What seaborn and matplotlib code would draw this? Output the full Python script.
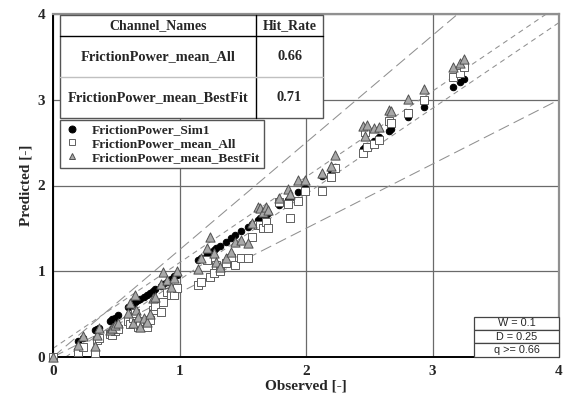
import matplotlib
matplotlib.use("Agg")
import matplotlib.pyplot as plt
import seaborn as sns
import pandas as pd
from matplotlib.patches import Rectangle
from matplotlib.lines import Line2D
from matplotlib.ticker import MultipleLocator

# ---------------- data ----------------
observed = [0.00, 0.20, 0.24, 0.33, 0.35, 0.36, 0.45, 0.47, 0.49, 0.51,
            0.59, 0.61, 0.63, 0.65, 0.66, 0.67, 0.69, 0.72, 0.74, 0.77,
            0.79, 0.81, 0.85, 0.87, 0.90, 0.93, 0.96, 0.98, 1.15, 1.17,
            1.22, 1.24, 1.27, 1.29, 1.32, 1.37, 1.41, 1.44, 1.49, 1.54,
            1.57, 1.62, 1.64, 1.66, 1.68, 1.70, 1.79, 1.86, 1.87, 1.94,
            1.99, 2.13, 2.20, 2.23, 2.45, 2.47, 2.48, 2.54, 2.58, 2.66,
            2.67, 2.81, 2.93, 3.16, 3.22, 3.25]
sim1 = [0.00, 0.19, 0.22, 0.31, 0.33, 0.34, 0.42, 0.44, 0.46, 0.49,
        0.58, 0.60, 0.62, 0.64, 0.65, 0.66, 0.68, 0.70, 0.72, 0.75,
        0.77, 0.79, 0.83, 0.85, 0.88, 0.91, 0.94, 0.96, 1.13, 1.15,
        1.20, 1.22, 1.25, 1.27, 1.30, 1.34, 1.39, 1.42, 1.47, 1.52,
        1.55, 1.60, 1.62, 1.64, 1.66, 1.68, 1.77, 1.83, 1.85, 1.92,
        1.97, 2.11, 2.18, 2.21, 2.43, 2.45, 2.46, 2.52, 2.56, 2.64,
        2.66, 2.80, 2.92, 3.15, 3.21, 3.24]
mean_all = [0.00, 0.06, 0.12, 0.05, 0.20, 0.22, 0.27, 0.26, 0.30, 0.33,
            0.42, 0.38, 0.45, 0.51, 0.40, 0.35, 0.37, 0.42, 0.35, 0.43,
            0.55, 0.60, 0.52, 0.64, 0.76, 0.72, 0.72, 0.80, 0.84, 0.88,
            1.13, 0.93, 0.98, 1.07, 1.00, 1.10, 1.15, 1.07, 1.15, 1.15,
            1.40, 1.54, 1.54, 1.50, 1.57, 1.50, 1.81, 1.78, 1.62, 1.82,
            1.94, 1.94, 2.10, 2.20, 2.38, 2.62, 2.45, 2.48, 2.53, 2.75,
            2.73, 2.84, 3.00, 3.26, 3.31, 3.38]
mean_bestfit = [0.00, 0.14, 0.24, 0.13, 0.26, 0.34, 0.31, 0.34, 0.37, 0.40,
                0.51, 0.63, 0.40, 0.72, 0.55, 0.47, 0.35, 0.45, 0.41, 0.50,
                0.69, 0.70, 0.85, 0.99, 0.90, 0.82, 0.92, 1.00, 1.03, 1.15,
                1.27, 1.40, 1.21, 1.11, 1.05, 1.15, 1.22, 1.34, 1.36, 1.33,
                1.56, 1.75, 1.74, 1.69, 1.75, 1.72, 1.85, 1.96, 1.90, 2.06,
                2.06, 2.15, 2.23, 2.36, 2.69, 2.58, 2.71, 2.67, 2.68, 2.88,
                2.87, 3.01, 3.13, 3.38, 3.43, 3.47]
series_names = ["FrictionPower_Sim1", "FrictionPower_mean_All",
                "FrictionPower_mean_BestFit"]
table_header = ["Channel_Names", "Hit_Rate"]
table_channels = ["FrictionPower_mean_All", "FrictionPower_mean_BestFit"]
table_hit_rates = ["0.66", "0.71"]
W = 0.1
D = 0.25
Q = 0.66
axis_ticks = [0, 1, 2, 3, 4]

# ---------------- style ----------------
sns.set_style("white")
plt.rcParams["font.family"] = ["Liberation Serif", "DejaVu Serif"]
SANS = ["Liberation Sans", "DejaVu Sans"]

fig = plt.figure(figsize=(5.64, 3.96), dpi=100)
L, R, B, T = 53, 559, 357, 14
ax = fig.add_axes([L / 564, (396 - B) / 396, (R - L) / 564, (B - T) / 396])
ax.set_xlim(0, 4)
ax.set_ylim(0, 4)

# grid
ax.set_xticks(axis_ticks)
ax.set_yticks(axis_ticks)
ax.xaxis.set_minor_locator(MultipleLocator(0.5))
ax.yaxis.set_minor_locator(MultipleLocator(0.5))
ax.grid(True, which="major", color="#6a6a6a", lw=0.9, zorder=0)
ax.set_axisbelow(True)

for s in ["left", "bottom"]:
    ax.spines[s].set_color("black")
    ax.spines[s].set_linewidth(1.4)
for s in ["top", "right"]:
    ax.spines[s].set_color("#909090")
    ax.spines[s].set_linewidth(1.6)

ax.tick_params(which="major", direction="inout", length=7, width=1.0,
               color="black", labelsize=11, pad=2)
ax.tick_params(which="minor", direction="inout", length=6, width=1.0,
               color="black")
for lab in ax.get_xticklabels() + ax.get_yticklabels():
    lab.set_fontweight("bold")

# reference lines
ax.axline((0, W), slope=1, color="#909090", lw=0.75, dashes=(5, 4), zorder=1)
ax.axline((0, -W), slope=1, color="#909090", lw=0.75, dashes=(5, 4), zorder=1)
ax.axline((0, 0), slope=1 + D, color="#909090", lw=0.75, dashes=(11, 5), zorder=1)
ax.axline((0, 0), slope=1 - D, color="#909090", lw=0.75, dashes=(11, 5), zorder=1)

# scatter series
styles = [
    dict(marker="o", color="black", edgecolor="black", s=22),
    dict(marker="s", color="white", edgecolor="#606060", s=28),
    dict(marker="^", color="#a8a8a8", edgecolor="#505050", s=44),
]
ys = [sim1, mean_all, mean_bestfit]
for name, yv, st in zip(series_names, ys, styles):
    df = pd.DataFrame({"Observed": observed, "Predicted": yv})
    sns.scatterplot(data=df, x="Observed", y="Predicted", ax=ax,
                    marker=st["marker"], color=st["color"],
                    edgecolor=st["edgecolor"], linewidth=0.7, s=st["s"],
                    zorder=3, legend=False, clip_on=False)
ax.set_xlabel("Observed [-]", fontsize=11, fontweight="bold", labelpad=1)
ax.set_ylabel("Predicted [-]", fontsize=11, fontweight="bold", labelpad=4)

# ---------------- table (top-left) ----------------
def px_to_ax(x, y):
    return (x - L) / (R - L), (B - y) / (B - T)

tx0, tx1, tcol = 60, 323, 256
ty = [15, 36, 77, 118]
x0, y0 = px_to_ax(tx0, ty[3])
x1, y1 = px_to_ax(tx1, ty[0])
ax.add_patch(Rectangle((x0, y0), x1 - x0, y1 - y0, transform=ax.transAxes,
                       facecolor="white", edgecolor="#555555", lw=1.0,
                       zorder=5))
xc, _ = px_to_ax(tcol, 0)
ax.plot([xc, xc], [y0, y1], transform=ax.transAxes, color="black", lw=1.0,
        zorder=6)
_, yh = px_to_ax(0, ty[1])
ax.plot([x0, x1], [yh, yh], transform=ax.transAxes, color="black", lw=1.0,
        zorder=6)
_, yr = px_to_ax(0, ty[2])
ax.plot([x0, x1], [yr, yr], transform=ax.transAxes, color="#c0c0c0", lw=1.0,
        zorder=6)

cx_name = (x0 + xc) / 2
cx_rate = (xc + x1) / 2
_, ty_h = px_to_ax(0, (ty[0] + ty[1]) / 2)
ax.text(cx_name, ty_h, table_header[0], transform=ax.transAxes, ha="center",
        va="center", fontsize=10, fontweight="bold", zorder=7)
ax.text(cx_rate, ty_h, table_header[1], transform=ax.transAxes, ha="center",
        va="center", fontsize=10, fontweight="bold", zorder=7)
for i, (ch, hr) in enumerate(zip(table_channels, table_hit_rates)):
    _, yy = px_to_ax(0, (ty[i + 1] + ty[i + 2]) / 2)
    ax.text(cx_name, yy, ch, transform=ax.transAxes, ha="center", va="center",
            fontsize=10.4, fontweight="bold", zorder=7)
    ax.text(cx_rate, yy, hr, transform=ax.transAxes, ha="center", va="center",
            fontsize=10.4, fontweight="bold", zorder=7)

# ---------------- legend ----------------
handles = [Line2D([], [], linestyle="none", marker=st["marker"],
                  markerfacecolor=st["color"], markeredgecolor=st["edgecolor"],
                  markeredgewidth=0.7, markersize=5)
           for st in styles]
lx, ly = px_to_ax(60, 120)
leg = ax.legend(handles, series_names, loc="upper left",
                bbox_to_anchor=(lx, ly), bbox_transform=ax.transAxes,
                frameon=True, fancybox=False, edgecolor="#555555",
                framealpha=1, borderaxespad=0, borderpad=0.3,
                labelspacing=0.1, handlelength=1.2, handletextpad=0.9,
                prop=dict(weight="bold", size=9.6))
leg.get_frame().set_linewidth(1.0)
leg.set_zorder(8)

# ---------------- parameter box (bottom-right) ----------------
bx0, bx1 = 474, 559
by = [317, 330, 343, 357]
params = [f"W = {W}", f"D = {D}", f"q >= {Q}"]
for i, txt in enumerate(params):
    xa, ya = px_to_ax(bx0, by[i + 1])
    xb, yb = px_to_ax(bx1, by[i])
    ax.add_patch(Rectangle((xa, ya), xb - xa, yb - ya, transform=ax.transAxes,
                           facecolor="white", edgecolor="#444444", lw=0.9,
                           zorder=5, clip_on=False))
    ax.text((xa + xb) / 2, (ya + yb) / 2, txt, transform=ax.transAxes,
            ha="center", va="center", fontsize=7.8, family=SANS, zorder=7)

fig.savefig("out.png", dpi=100)
